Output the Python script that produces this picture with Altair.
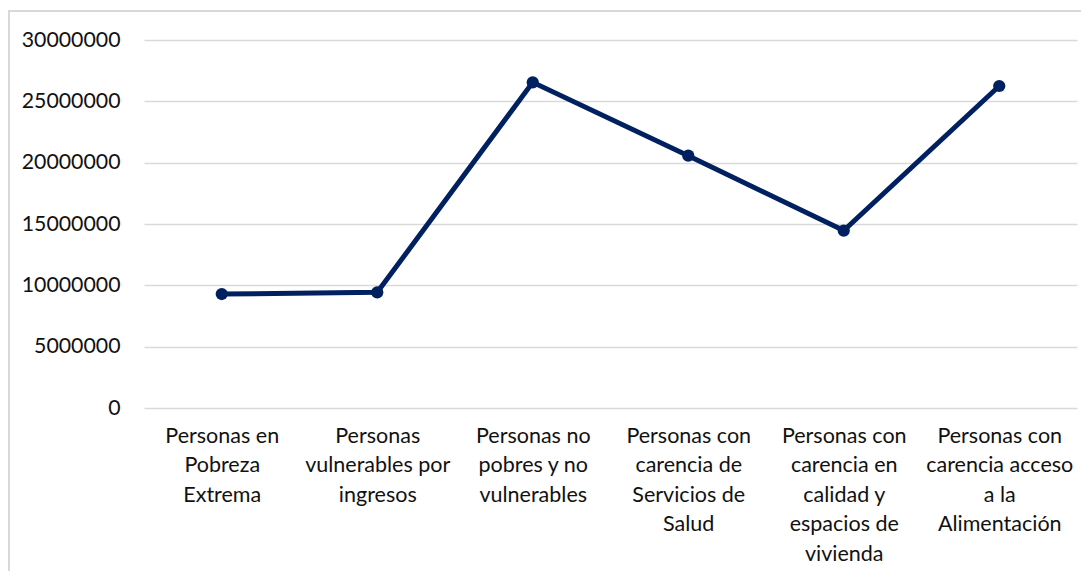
import altair as alt
import pandas as pd

categories = [
    "Personas en|Pobreza|Extrema",
    "Personas|vulnerables por|ingresos",
    "Personas no|pobres y no|vulnerables",
    "Personas con|carencia de|Servicios de|Salud",
    "Personas con|carencia en|calidad y|espacios de|vivienda",
    "Personas con|carencia acceso|a la|Alimentación",
]
values = [9290000, 9430000, 26550000, 20570000, 14460000, 26250000]
y_ticks = [0, 5000000, 10000000, 15000000, 20000000, 25000000, 30000000]

df = pd.DataFrame({"cat": categories, "val": values})

FONT = "Lato"
NAVY = "#002060"
TXT = "#111111"

x_enc = alt.X(
    "cat:N",
    sort=categories,
    title=None,
    scale=alt.Scale(paddingInner=0, paddingOuter=0.5),
    axis=alt.Axis(
        labelExpr="split(datum.label, '|')",
        labelAngle=0,
        labelAlign="center",
        labelBaseline="top",
        labelFont=FONT,
        labelFontSize=21.5,
        labelColor=TXT,
        labelLineHeight=29.5,
        labelPadding=17,
        ticks=False,
        domain=False,
        grid=False,
        labelLimit=0,
    ),
)
y_enc = alt.Y(
    "val:Q",
    title=None,
    scale=alt.Scale(domain=[0, 30000000], nice=False),
    axis=alt.Axis(
        values=y_ticks,
        format="d",
        labelFont=FONT,
        labelFontSize=21.3,
        labelColor=TXT,
        labelPadding=24,
        ticks=False,
        domain=False,
        grid=True,
        gridColor="#d9d9d9",
        gridWidth=1.5,
    ),
)

frame = alt.Chart(alt.Data(values=[{"a": 1}])).mark_rect(
    fill=None, stroke="#d9d9d9", strokeWidth=2
).encode(
    x=alt.value(-135), x2=alt.value(1000), y=alt.value(-29), y2=alt.value(700)
)

line = alt.Chart(df).mark_line(color=NAVY, strokeWidth=5).encode(x=x_enc, y=y_enc)
pts = alt.Chart(df).mark_circle(color=NAVY, size=150, opacity=1).encode(x=x_enc, y=y_enc)

chart = alt.layer(frame, line, pts).properties(
    width=933,
    height=368,
    autosize=alt.AutoSizeParams(type="none"),
    padding={"left": 136, "top": 32, "right": 4, "bottom": 163},
).configure_view(stroke=None)

chart.save("out.html", embed_options={"renderer": "svg", "actions": False})
